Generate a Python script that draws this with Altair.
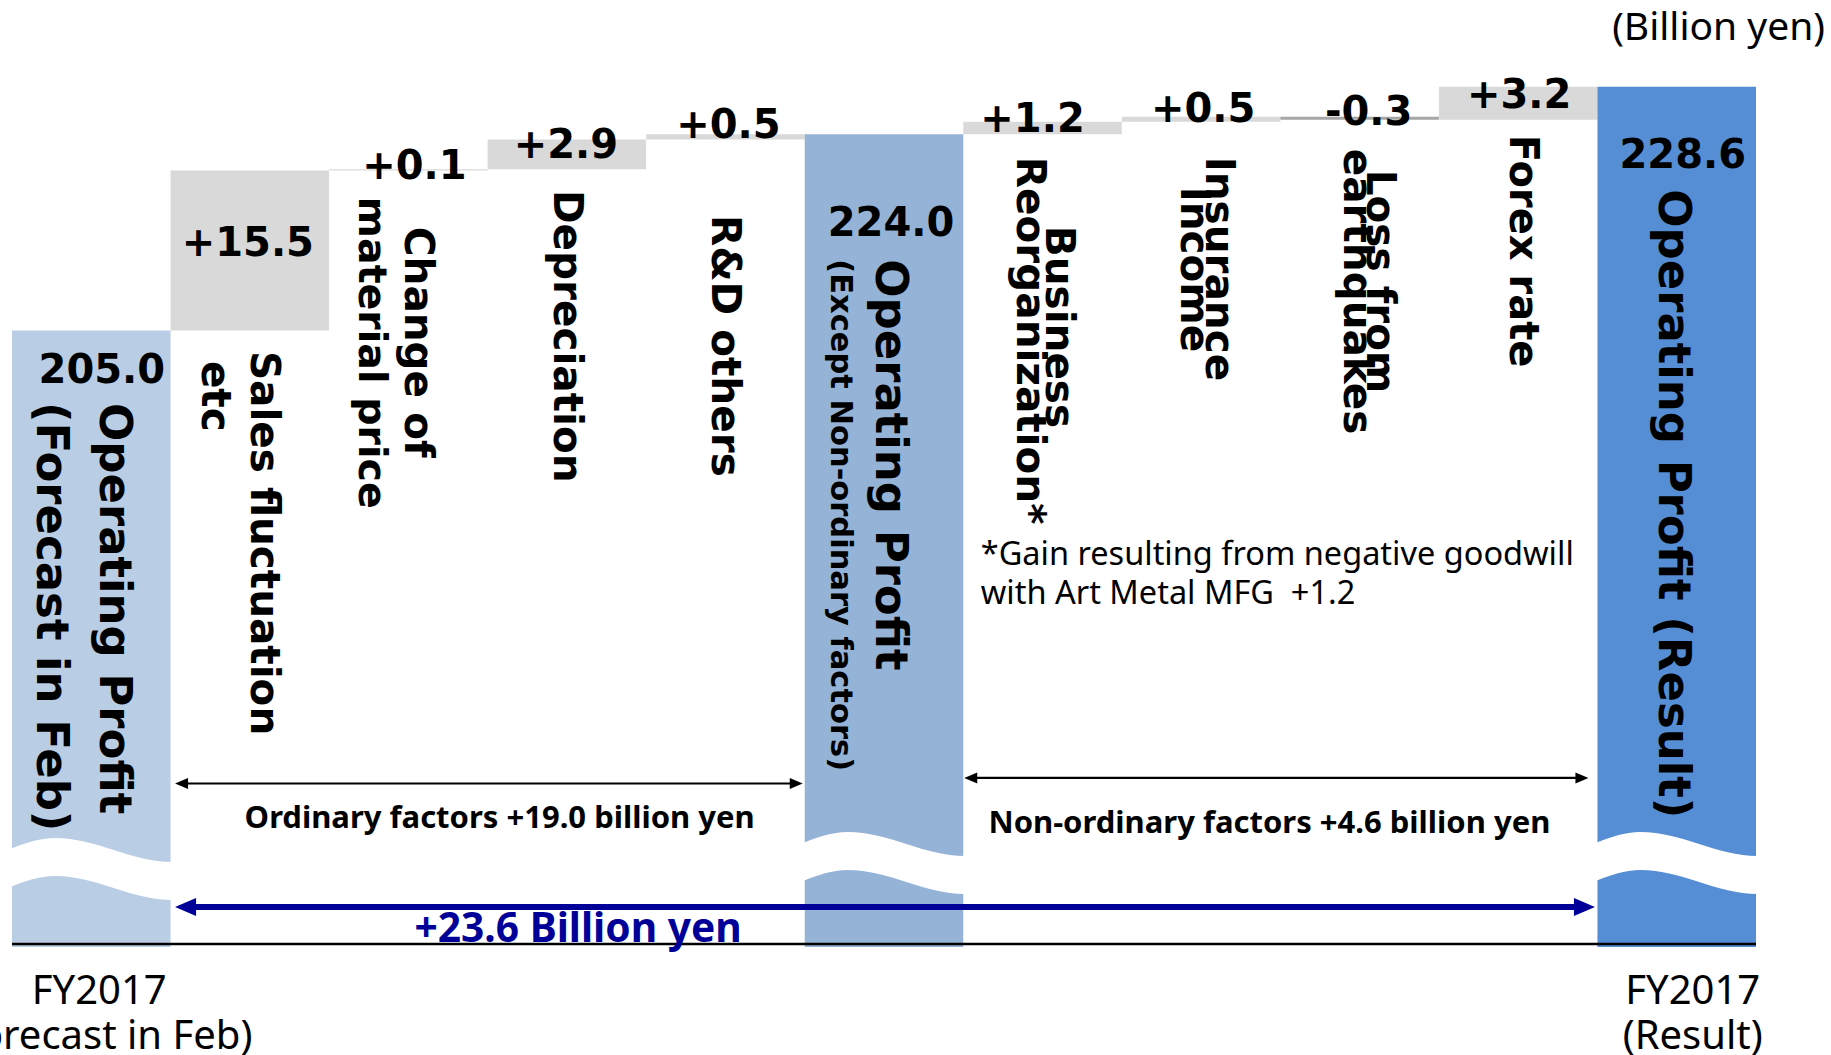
import altair as alt
import pandas as pd

# Operating profit bridge: FY2017 forecast (Feb) -> FY2017 result, billion yen
steps = [
    "FY2017 forecast",
    "Sales fluctuation etc",
    "Change of material price",
    "Depreciation",
    "R&D others",
    "Operating profit (ordinary)",
    "Business reorganization",
    "Insurance income",
    "Loss from earthquakes",
    "Forex rate",
    "FY2017 result",
]
step_values = [205.0, 15.5, 0.1, 2.9, 0.5, 224.0, 1.2, 0.5, -0.3, 3.2, 228.6]
step_is_total = [True, False, False, False, False, True, False, False, False, False, True]
step_text = [
    ["Operating Profit", "(Forecast in Feb)"],
    ["Sales fluctuation", "etc"],
    ["Change of", "material price"],
    ["Depreciation"],
    ["R&D others"],
    ["Operating Profit", "(Except Non-ordinary factors)"],
    ["Business", "Reorganization*"],
    ["Insurance", "Income"],
    ["Loss from", "earthquakes"],
    ["Forex rate"],
    ["Operating Profit (Result)"],
]
period_text = [["FY2017", "(Forecast in Feb)"], ["FY2017", "(Result)"]]
ordinary_steps = [1, 2, 3, 4]
non_ordinary_steps = [6, 7, 8, 9]
footnote = ["*Gain resulting from negative goodwill", "with Art Metal MFG\u00a0 +1.2"]
unit_text = "(Billion yen)"

# ---- layout ---------------------------------------------------------------
W, H = 1744, 947
Y_BASE, Y_TOP = 145.3, 237.0          # broken value axis: totals stand on Y_BASE
SLOT_PX = W / len(steps)

XS = alt.Scale(domain=[0, len(steps)], nice=False, zero=False)
YS = alt.Scale(domain=[Y_BASE, Y_TOP], nice=False, zero=False)

TOTAL_FILLS = ["#B9CDE5", "#95B3D7", "#558ED5"]
UP_FILL, DOWN_FILL = "#D9D9D9", "#A6A6A6"
NAVY = "#000099"
BOLD = "DejaVu Sans"
PLAIN = "Noto Sans"

AXIS_LEVEL = 145.59
BREAK_LEVELS = [152.85, 153.43, 153.43]
ORD_LEVEL, NONORD_LEVEL, TOTAL_LEVEL = 161.13, 161.67, 149.17

# wave-shaped white band that marks the axis break (pixel units, size=4 -> r=1)
WAVE_PATH = ("M -81 -20 C -66 -26 -52 -31 -36.5 -31 C 5 -31 40 -7 81 -7 "
             "L 81 31 C 40 31 5 7 -36.5 7 C -52 7 -66 12 -81 18 Z")

# per text line: (offset along the text from bar top, offset across, font size)
LINE_LAYOUT = {
    (0, 0): (72.5, -23, 45), (0, 1): (71.5, 40, 45),
    (1, 0): (180.5, -13, 40.5), (1, 1): (190.5, 36, 40.5),
    (2, 0): (57.5, -9, 40.5), (2, 1): (27.5, 37, 39.5),
    (3, 0): (50.5, 1, 40.5),
    (4, 0): (80.7, 1, 40.5),
    (5, 0): (125, -6, 45), (5, 1): (125, 44, 30.5),
    (6, 0): (104, -15, 40.5), (6, 1): (35, 14, 40.5),
    (7, 0): (40, -17, 40.5), (7, 1): (70, 8, 40.5),
    (8, 0): (53, -19, 40.5), (8, 1): (32, 4, 40.5),
    (9, 0): (48, -4, 40),
    (10, 0): (102.5, 4, 45),
}
# value label nudges (dx, dy) in pixels
TOTAL_LABEL_OFFSETS = {0: (10.6, 41), 5: (7, 90), 10: (6, 69)}
DELTA_LABEL_OFFSETS = {1: (-2, -6), 2: (6, -2), 3: (-1, 7), 4: (3, -8),
                       6: (-10, -2), 7: (2, -7), 8: (9, -4), 9: (1, 9)}

# ---- tables ---------------------------------------------------------------
rows = []
running = None
t = 0
for i, (name, v, total) in enumerate(zip(steps, step_values, step_is_total)):
    if total:
        start, end = Y_BASE, v
        running = v
        fill = TOTAL_FILLS[t]
        t += 1
        label = f"{v:.1f}"
    else:
        start, end = running, round(running + v, 1)
        running = end
        fill = UP_FILL if v > 0 else DOWN_FILL
        label = f"{v:+.1f}"
    big = (not total) and abs(v) > 5
    top = max(start, end)
    rows.append(dict(step=name, idx=i, x0=i, x1=i + 1, xc=i + 0.5,
                     start=start, end=end, top=top,
                     label_y=(start + end) / 2 if big else top,
                     label=label, fill=fill, total=total))
bars_df = pd.DataFrame(rows)

line_rows = []
for i, lines in enumerate(step_text):
    for j, txt in enumerate(lines):
        line_rows.append(dict(key=f"{i}-{j}", text=txt, xc=i + 0.5,
                              top=bars_df.loc[i, "top"]))
lines_df = pd.DataFrame(line_rows)


def X(field):
    return alt.X(f"{field}:Q", scale=XS, axis=None)


def Y(field):
    return alt.Y(f"{field}:Q", scale=YS, axis=None)


layers = []

# bars
layers.append(
    alt.Chart(bars_df).mark_rect().encode(
        x=X("x0"), x2="x1", y=Y("start"), y2="end",
        fill=alt.Fill("fill:N", scale=None),
    )
)

# axis-break waves on the three totals
breaks_df = bars_df[bars_df.total].copy()
breaks_df["level"] = BREAK_LEVELS
layers.append(
    alt.Chart(breaks_df).mark_point(
        shape=WAVE_PATH, size=4, filled=True, color="white", opacity=1, strokeWidth=0
    ).encode(x=X("xc"), y=Y("level"))
)

# base line
base_df = pd.DataFrame([dict(a=0, b=len(steps), y=AXIS_LEVEL)])
layers.append(
    alt.Chart(base_df).mark_rule(color="black", strokeWidth=2.5).encode(
        x=X("a"), x2="b", y=Y("y")
    )
)

# rotated category captions
for (i, j), (along, across, size) in LINE_LAYOUT.items():
    layers.append(
        alt.Chart(lines_df).transform_filter(alt.datum.key == f"{i}-{j}").mark_text(
            angle=90, align="left", baseline="middle", font=BOLD, fontWeight="bold",
            fontSize=size, dx=along, dy=across, color="black",
        ).encode(x=X("xc"), y=Y("top"), text="text:N")
    )

# value labels
label_offsets = {**TOTAL_LABEL_OFFSETS, **DELTA_LABEL_OFFSETS}
for idx in range(len(steps)):
    ddx, ddy = label_offsets[idx]
    layers.append(
        alt.Chart(bars_df).transform_filter(alt.datum.idx == idx).mark_text(
            font=BOLD, fontWeight="bold", fontSize=40, baseline="middle",
            dx=ddx, dy=ddy, color="black"
        ).encode(x=X("xc"), y=Y("label_y"), text="label:N")
    )

# bracket arrows
ord_sum = round(sum(step_values[i] for i in ordinary_steps), 1)
non_sum = round(sum(step_values[i] for i in non_ordinary_steps), 1)
tot_sum = round(step_values[-1] - step_values[0], 1)

arrows = [
    # x_from, x_to, level, colour, stroke, head length, head half-height, gaps (px)
    dict(a=ordinary_steps[0], b=ordinary_steps[-1] + 1, y=ORD_LEVEL, color="black",
         sw=2.2, hl=13, hh=5.5, gl=4.5, gr=2),
    dict(a=non_ordinary_steps[0], b=non_ordinary_steps[-1] + 1, y=NONORD_LEVEL, color="black",
         sw=2.2, hl=13, hh=5.5, gl=1, gr=9),
    dict(a=1, b=len(steps) - 1, y=TOTAL_LEVEL, color=NAVY,
         sw=6, hl=21, hh=9, gl=4.5, gr=2.5),
]
for ar in arrows:
    tip_l = ar["a"] + ar["gl"] / SLOT_PX
    tip_r = ar["b"] - ar["gr"] / SLOT_PX
    inset = ar["hl"] * 0.6 / SLOT_PX
    df = pd.DataFrame([dict(tl=tip_l, tr=tip_r, sl=tip_l + inset, sr=tip_r - inset, y=ar["y"])])
    layers.append(
        alt.Chart(df).mark_rule(color=ar["color"], strokeWidth=ar["sw"]).encode(
            x=X("sl"), x2="sr", y=Y("y")
        )
    )
    hl, hh = ar["hl"], ar["hh"]
    left_head = f"M 0 0 L {hl} {-hh} L {hl} {hh} Z"
    right_head = f"M 0 0 L {-hl} {-hh} L {-hl} {hh} Z"
    for shape, field in ((left_head, "tl"), (right_head, "tr")):
        layers.append(
            alt.Chart(df).mark_point(
                shape=shape, size=4, filled=True, color=ar["color"], opacity=1, strokeWidth=0
            ).encode(x=X(field), y=Y("y"))
        )

# annotation texts
ann = [
    dict(text=f"Ordinary factors {ord_sum:+.1f} billion yen", x=(ordinary_steps[0] + ordinary_steps[-1] + 1) / 2,
         y=ORD_LEVEL, dx=12, dy=35, size=31, weight="bold", color="black", align="center", font=PLAIN),
    dict(text=f"Non-ordinary factors {non_sum:+.1f} billion yen", x=(non_ordinary_steps[0] + non_ordinary_steps[-1] + 1) / 2,
         y=NONORD_LEVEL, dx=-11, dy=46, size=31, weight="bold", color="black", align="center", font=PLAIN),
    dict(text=f"{tot_sum:+.1f} Billion yen", x=1, y=TOTAL_LEVEL, dx=244, dy=23, size=40.7,
         weight="bold", color=NAVY, align="left", font=PLAIN),
    dict(text=footnote[0], x=non_ordinary_steps[0], y=NONORD_LEVEL, dx=17.5, dy=-223, size=32.5,
         weight="normal", color="black", align="left", font=PLAIN),
    dict(text=footnote[1], x=non_ordinary_steps[0], y=NONORD_LEVEL, dx=17.5, dy=-184, size=32.5,
         weight="normal", color="black", align="left", font=PLAIN),
    dict(text=unit_text, x=len(steps), y=Y_TOP, dx=69, dy=28, size=39,
         weight="normal", color="black", align="right", font=PLAIN),
    dict(text=period_text[0][0], x=0.5, y=Y_BASE, dx=8, dy=45, size=40,
         weight="normal", color="black", align="center", font=PLAIN),
    dict(text=period_text[0][1], x=0.5, y=Y_BASE, dx=8, dy=90, size=40,
         weight="normal", color="black", align="center", font=PLAIN),
    dict(text=period_text[1][0], x=len(steps) - 0.5, y=Y_BASE, dx=16, dy=45, size=40,
         weight="normal", color="black", align="center", font=PLAIN),
    dict(text=period_text[1][1], x=len(steps) - 0.5, y=Y_BASE, dx=16, dy=90, size=40,
         weight="normal", color="black", align="center", font=PLAIN),
]
for a in ann:
    df = pd.DataFrame([dict(text=a["text"], x=a["x"], y=a["y"])])
    layers.append(
        alt.Chart(df).mark_text(
            align=a["align"], baseline="middle", dx=a["dx"], dy=a["dy"], fontSize=a["size"],
            fontWeight=a["weight"], color=a["color"], font=a["font"],
        ).encode(x=X("x"), y=Y("y"), text="text:N")
    )

chart = alt.layer(*layers).properties(
    width=W,
    height=H,
    padding={"left": 12, "top": 0, "right": 75, "bottom": 108},
    autosize=alt.AutoSizeParams(type="none"),
    background="white",
).configure_view(stroke=None)

chart.save("out.html", embed_options={"renderer": "svg", "actions": False})
